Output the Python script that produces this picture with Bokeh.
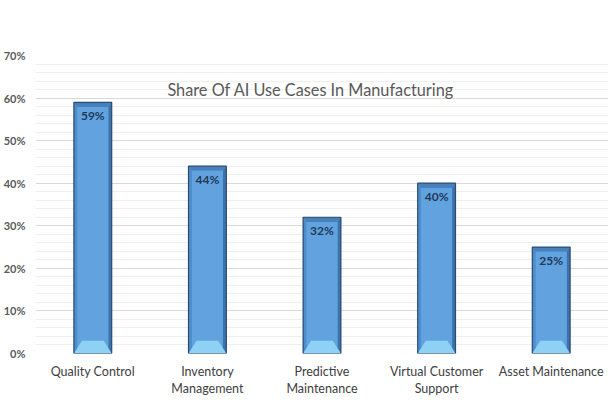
import numpy as np
from bokeh.plotting import figure
from bokeh.models import (ColumnDataSource, FixedTicker, NumeralTickFormatter, Range1d, Label)
from bokeh.core.properties import value
from bokeh.embed import file_html
from bokeh.resources import INLINE

categories = ["Quality Control", "Inventory\nManagement", "Predictive\nMaintenance",
              "Virtual Customer\nSupport", "Asset Maintenance"]
shares = [0.59, 0.44, 0.32, 0.40, 0.25]
value_labels = ["59%", "44%", "32%", "40%", "25%"]
y_ticks = [0.0, 0.1, 0.2, 0.3, 0.4, 0.5, 0.6, 0.7]
title_text = "Share Of  AI Use Cases In Manufacturing"

FONT = "Lato"

p = figure(width=615, height=410, output_backend="svg", toolbar_location=None,
           x_range=Range1d(-0.5, 4.5), y_range=Range1d(0, 0.70),
           min_border_top=55, min_border_bottom=57, min_border_left=31, min_border_right=7)
p.outline_line_color = None
p.background_fill_color = "white"
p.border_fill_color = "white"

xs = np.arange(len(categories), dtype=float)
h = np.array(shares)
w = 0.33
L = xs - w / 2
R = xs + w / 2
bx = 0.03
by = 0.012
ty = 0.011
bbx = 0.07
bby = 0.03

# base
p.quad(left=L, right=R, bottom=0, top=h, fill_color="#5b9bd5", line_color=None)
# left bevel
p.patches(xs=[[l, l, l + bx, l + bx] for l in L],
          ys=[[0, t, t - ty, by] for t in h], fill_color="#4f8ccb", line_color=None)
# right bevel
p.patches(xs=[[r, r, r - bx, r - bx] for r in R],
          ys=[[0, t, t - ty, by] for t in h], fill_color="#3d73aa", line_color=None)
# top bevel
p.patches(xs=[[l, r, r - bx, l + bx] for l, r in zip(L, R)],
          ys=[[t, t, t - ty, t - ty] for t in h], fill_color="#4781bb", line_color=None)
# face
p.quad(left=L + bx, right=R - bx, bottom=by, top=h - ty, fill_color="#62a3df", line_color=None)
# bottom bevel (light)
p.patches(xs=[[l, r, r - bbx, l + bbx] for l, r in zip(L, R)],
          ys=[[0, 0, bby, bby] for t in h], fill_color="#8fd0f5", line_color=None)
# outline
p.quad(left=L, right=R, bottom=0, top=h, fill_color=None, line_color="#2b4c72", line_width=1.2)

src = ColumnDataSource(dict(x=xs, y=h, t=value_labels))
p.text(x="x", y="y", text="t", source=src, text_align="center", text_baseline="middle",
       y_offset=13, text_font=value(FONT), text_font_size="12px", text_font_style="bold",
       text_color="#1f3a5a")

p.add_layout(Label(x=1.92, y=0.62, text=title_text, text_align="center", text_baseline="middle",
                   text_font=FONT, text_font_size="16.3px", text_color="#595959"))

# axes
p.xaxis.ticker = FixedTicker(ticks=list(xs))
p.xaxis.major_label_overrides = {i: c for i, c in enumerate(categories)}
p.xaxis.axis_line_color = None
p.xaxis.major_tick_line_color = None
p.xaxis.minor_tick_line_color = None
p.xaxis.major_label_text_font = FONT
p.xaxis.major_label_text_font_size = "12.5px"
p.xaxis.major_label_text_color = "#404040"
p.xaxis.major_label_text_line_height = 1.15
p.xaxis.major_label_standoff = 4

minor = [round(t + k * 0.02, 3) for t in y_ticks[:-1] for k in range(1, 5)]
yt = FixedTicker(ticks=y_ticks, minor_ticks=minor)
p.yaxis.ticker = yt
p.yaxis.formatter = NumeralTickFormatter(format="0%")
p.yaxis.axis_line_color = None
p.yaxis.major_tick_line_color = None
p.yaxis.minor_tick_line_color = None
p.yaxis.major_label_text_font = FONT
p.yaxis.major_label_text_font_size = "11px"
p.yaxis.major_label_text_font_style = "bold"
p.yaxis.major_label_text_color = "#595959"
p.yaxis.major_label_standoff = 4

p.xgrid.grid_line_color = None
p.ygrid.ticker = yt
p.ygrid.grid_line_color = "#d9d9d9"
p.ygrid.minor_grid_line_color = "#efefef"

open("out.html", "w").write(file_html(p, INLINE))
